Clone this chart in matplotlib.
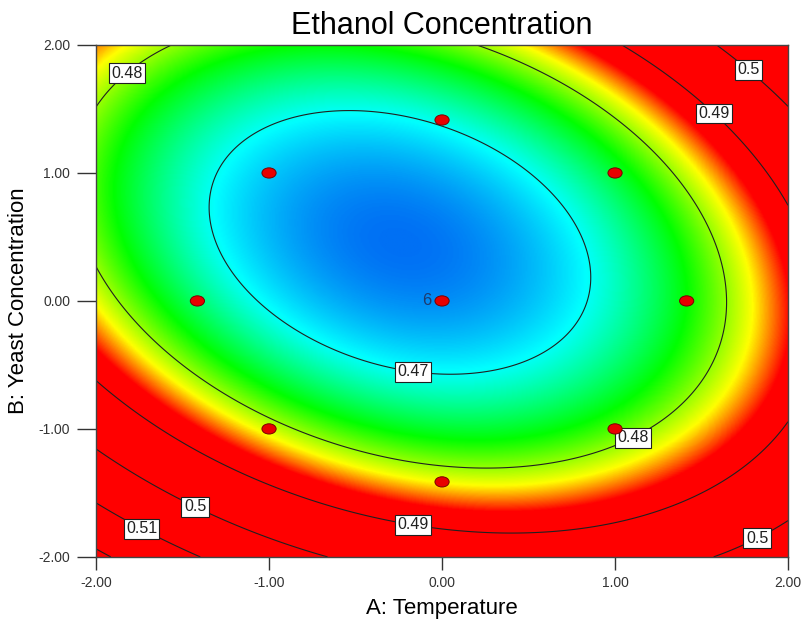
import numpy as np
import matplotlib.pyplot as plt
from matplotlib.colors import LinearSegmentedColormap, Normalize
from matplotlib.patches import Ellipse

plt.rcParams['font.family'] = ['Liberation Sans', 'DejaVu Sans']

# quadratic model in coded units: b0, A, B, AB, A^2, B^2
b0, bA, bB, bAB, bAA, bBB = 0.4659, 0.00104, -0.00417, 0.00260, 0.00458, 0.00525

levels = [0.47, 0.48, 0.49, 0.50, 0.51, 0.52]
# where the boxed contour labels sit
label_pos = [(-1.86, 1.84), (1.79, 1.84), (1.59, 1.49), (-0.16, -0.48), (1.08, -1.01),
             (-1.40, -1.53), (-1.71, -1.71), (-0.16, -1.69), (1.80, -1.80)]

# design points (central composite, alpha = 1.414)
pt_a = [-1, 1, -1, 1, -1.414, 1.414, 0, 0, 0]
pt_b = [-1, -1, 1, 1, 0, 0, -1.414, 1.414, 0]
center_reps = 6

ticks = [-2, -1, 0, 1, 2]

# colour stops (value, colour) like the Design-Expert gradient
stop_vals = [0.4648, 0.4697, 0.4765, 0.4825, 0.4865]
stop_cols = ['#0070f4', '#00ffff', '#00ff00', '#ffff00', '#ff0000']

A, B = np.meshgrid(np.linspace(-2, 2, 500), np.linspace(-2, 2, 500))
Z = b0 + bA * A + bB * B + bAB * A * B + bAA * A ** 2 + bBB * B ** 2

vmin, vmax = stop_vals[0], stop_vals[-1]
cmap = LinearSegmentedColormap.from_list(
    'de', [((v - vmin) / (vmax - vmin), c) for v, c in zip(stop_vals, stop_cols)])

fig = plt.figure(figsize=(8.07, 6.25), dpi=100)
ax = fig.add_axes([0.119, 0.109, 0.8575, 0.819])

ax.imshow(Z, origin='lower', extent=[-2, 2, -2, 2], aspect='auto', cmap=cmap,
          norm=Normalize(vmin, vmax, clip=True), interpolation='bilinear')
cs = ax.contour(A, B, Z, levels=levels, colors='#202020', linewidths=0.8)
labs = ax.clabel(cs, fmt='%g', manual=label_pos, inline=False, fontsize=11.5, colors='#202020')
for t in labs:
    t.set_rotation(0)
    t.set_bbox(dict(boxstyle='square,pad=0.15', fc='white', ec='#202020', lw=0.8))
    t.set_zorder(4)

for a, b in zip(pt_a, pt_b):
    ax.add_patch(Ellipse((a, b), 0.082, 0.08, fc='#e80000', ec='#7a0000', lw=0.7, zorder=5))
ax.text(-0.06, 0, str(center_reps), ha='right', va='center', fontsize=12, color='#1e3a6e', zorder=5)

ax.set_xlim(-2, 2)
ax.set_ylim(-2, 2)
ax.set_xticks(ticks)
ax.set_yticks(ticks)
ax.set_xticklabels(['%.2f' % t for t in ticks])
ax.set_yticklabels(['%.2f' % t for t in ticks])
ax.tick_params(axis='x', length=9.5, width=1, color='#333333', labelsize=10, labelcolor='#333333', pad=4)
ax.tick_params(axis='y', length=13.5, width=1, color='#333333', labelsize=10, labelcolor='#333333', pad=5)
for s in ax.spines.values():
    s.set_color('#444444')
    s.set_linewidth(1)

ax.set_xlabel('A: Temperature', fontsize=16, labelpad=6)
ax.set_ylabel('B: Yeast Concentration', fontsize=16, labelpad=7)
ax.set_title('Ethanol Concentration', fontsize=22, pad=8)

fig.savefig('out.png')
